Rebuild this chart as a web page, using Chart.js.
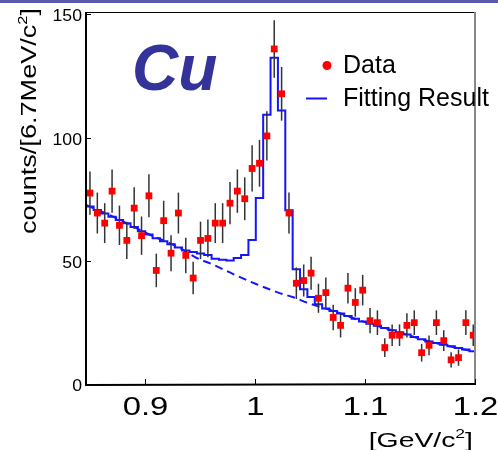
<!DOCTYPE html>
<html lang="en">
<head>
<meta charset="UTF-8" />
<title>Cu - counts vs mass</title>
<style>
  html, body { margin: 0; padding: 0; background: #fff; }
  .topbar { position: absolute; left: 0; top: 0; width: 498px; height: 3px; background: #5a5aa8; }
  canvas { display: block; }
</style>
</head>
<body>
<div class="topbar"></div>
<canvas id="massChart" width="498" height="450"></canvas>

<script src="https://cdn.jsdelivr.net/npm/chart.js"></script>
<script>
// bin centres [GeV/c^2], 6.7 MeV bins
const mass = [
  0.8500, 0.8567, 0.8634, 0.8701, 0.8768, 0.8835, 0.8902, 0.8969, 0.9036, 0.9103,
  0.9170, 0.9237, 0.9304, 0.9371, 0.9438, 0.9505, 0.9572, 0.9639, 0.9706, 0.9773,
  0.9840, 0.9907, 0.9974, 1.0041, 1.0108, 1.0175, 1.0242, 1.0309, 1.0376, 1.0443,
  1.0510, 1.0577, 1.0644, 1.0711, 1.0778, 1.0845, 1.0912, 1.0979, 1.1046, 1.1113,
  1.1180, 1.1247, 1.1314, 1.1381, 1.1448, 1.1515, 1.1582, 1.1649, 1.1716, 1.1783,
  1.1850, 1.1917, 1.1984
];

// data counts per bin
const counts = [
  77.5, 69.4, 65.3, 78.3, 64.4, 58.3, 71.4, 60.2, 76.4, 46.1,
  66.3, 53.1, 69.4, 52.2, 43.0, 58.3, 59.1, 65.3, 65.3, 73.4,
  78.3, 75.2, 87.5, 89.6, 100.7, 136.0, 117.8, 69.4, 40.9, 42.0,
  45.0, 34.8, 37.1, 27.0, 23.8, 38.9, 33.1, 38.1, 25.7, 24.9,
  14.8, 19.8, 19.8, 23.8, 24.9, 12.7, 15.7, 24.9, 17.6, 9.8,
  10.7, 24.9, 19.8
];

// error bar half lengths
const countErrors = [
  8.8, 8.3, 8.1, 8.8, 8.0, 7.6, 8.5, 7.8, 8.7, 6.8,
  8.1, 7.3, 8.3, 7.2, 6.6, 7.6, 7.7, 8.1, 8.1, 8.6,
  8.8, 8.7, 9.4, 9.5, 10.0, 11.7, 10.9, 8.3, 6.4, 6.5,
  6.7, 5.9, 6.1, 5.2, 4.9, 6.2, 5.8, 6.2, 5.1, 5.0,
  3.8, 4.4, 4.4, 4.9, 5.0, 3.6, 4.0, 5.0, 4.2, 3.1,
  3.3, 5.0, 4.4
];

// fitted total (histogram)
const fitResult = [
  72.0, 70.6, 69.2, 67.9, 66.6, 65.2, 63.7, 62.0, 60.7, 59.2,
  57.9, 56.7, 55.4, 54.2, 53.6, 53.0, 52.4, 50.8, 50.4, 50.1,
  51.1, 52.4, 58.5, 75.5, 109.3, 132.4, 111.0, 70.5, 46.6, 38.5,
  35.3, 32.4, 30.6, 29.6, 28.6, 27.6, 26.5, 25.4, 24.5, 23.6,
  22.7, 21.8, 21.0, 20.1, 19.1, 18.2, 17.3, 16.6, 15.9, 15.3,
  14.6, 14.0, 13.3
];

// background component (dashed)
const bgMass = [0.8464, 0.8755, 0.9015, 0.9318, 0.9455, 0.9621, 0.9803, 1.0015, 1.0212,
  1.0348, 1.0470, 1.0561, 1.0682, 1.0985, 1.1288, 1.1591, 1.2000];
const bgCounts = [72.7, 67.0, 61.2, 55.2, 51.5, 48.4, 44.6, 40.5, 37.1,
  35.2, 33.1, 31.7, 30.1, 25.3, 21.3, 17.2, 13.1];

const xTicks = [0.9, 1.0, 1.1, 1.2];
const yTicks = [0, 50, 100, 150];
const xRange = [0.8464, 1.2];
const yRange = [0, 151];

const FONT = '"Liberation Sans", Arial, Helvetica, sans-serif';
const BLUE = '#1414ff';

// text drawn with a horizontal stretch (the original fonts are wide)
function wideText(ctx, parts, x, y, sx, align) {
  // parts: [text, size, rise]
  ctx.save();
  ctx.translate(x, y);
  ctx.scale(sx, 1);
  let total = 0;
  parts.forEach(p => { ctx.font = p[1] + 'px ' + FONT; total += ctx.measureText(p[0]).width; });
  let cx = align === 'right' ? -total : align === 'center' ? -total / 2 : 0;
  ctx.textAlign = 'left';
  ctx.textBaseline = 'alphabetic';
  parts.forEach(p => {
    ctx.font = p[1] + 'px ' + FONT;
    ctx.fillText(p[0], cx, -(p[2] || 0));
    cx += ctx.measureText(p[0]).width;
  });
  ctx.restore();
}

const errorBars = {
  id: 'errorBars',
  beforeDatasetDraw(chart, args) {
    if (args.index !== 0) return;
    const { ctx, scales: { x, y } } = chart;
    ctx.save();
    ctx.strokeStyle = '#333';
    ctx.lineWidth = 1.5;
    mass.forEach((m, i) => {
      const px = x.getPixelForValue(m);
      ctx.beginPath();
      ctx.moveTo(px, y.getPixelForValue(counts[i] - countErrors[i]));
      ctx.lineTo(px, y.getPixelForValue(counts[i] + countErrors[i]));
      ctx.stroke();
    });
    ctx.restore();
  }
};

const frameAndText = {
  id: 'frameAndText',
  afterDraw(chart) {
    const { ctx, chartArea: a, scales: { x, y } } = chart;
    ctx.save();
    ctx.fillStyle = '#000';

    // frame
    ctx.strokeStyle = '#000';
    ctx.lineWidth = 1;
    ctx.beginPath(); ctx.moveTo(a.left, a.top + 0.5); ctx.lineTo(a.right, a.top + 0.5); ctx.stroke();
    ctx.strokeStyle = '#888';
    ctx.lineWidth = 2;
    ctx.beginPath(); ctx.moveTo(a.right, a.top); ctx.lineTo(a.right, a.bottom); ctx.stroke();
    ctx.strokeStyle = '#000';
    ctx.beginPath(); ctx.moveTo(a.left, a.top); ctx.lineTo(a.left, a.bottom + 1); ctx.lineTo(a.right + 1, a.bottom); ctx.stroke();

    // ticks (inside)
    ctx.lineWidth = 1;
    xTicks.forEach(v => {
      const px = Math.round(x.getPixelForValue(v)) + 0.5;
      ctx.beginPath(); ctx.moveTo(px, a.bottom); ctx.lineTo(px, a.bottom - 5); ctx.stroke();
      wideText(ctx, [[String(+v.toFixed(2)), 26.5]], px, a.bottom + 31, 1.24, 'center');
    });
    yTicks.forEach(v => {
      const py = Math.round(y.getPixelForValue(v)) + 0.5;
      ctx.beginPath(); ctx.moveTo(a.left - 1, py); ctx.lineTo(a.left + 5, py); ctx.stroke();
      wideText(ctx, [[String(v), 16.5]], a.left - 4, py + 6, 1.07, 'right');
    });

    // axis titles
    wideText(ctx, [['[GeV/c', 21], ['2', 13, 9], [']', 21]], 473, 446.5, 1.35, 'right');
    ctx.save();
    ctx.translate(35.5, 121);
    ctx.rotate(-Math.PI / 2);
    wideText(ctx, [['counts/[6.7MeV/c', 21.5], ['2', 13, 9], [']', 21.5]], 0, 0, 1.26, 'center');
    ctx.restore();

    // target label
    ctx.fillStyle = '#333399';
    ctx.font = 'italic bold 64px ' + FONT;
    ctx.textAlign = 'left';
    ctx.textBaseline = 'alphabetic';
    ctx.fillText('Cu', 132, 90);

    // legend
    ctx.fillStyle = '#ff0000';
    ctx.beginPath(); ctx.arc(327, 65.5, 4.5, 0, Math.PI * 2); ctx.fill();
    ctx.strokeStyle = BLUE;
    ctx.lineWidth = 2;
    ctx.beginPath(); ctx.moveTo(306, 98.5); ctx.lineTo(327, 98.5); ctx.stroke();
    ctx.fillStyle = '#000';
    ctx.font = '25px ' + FONT;
    ctx.textBaseline = 'middle';
    ctx.fillText('Data', 343, 66);
    ctx.fillText('Fitting Result', 343, 99);
    ctx.restore();
  }
};

const fitPoints = [{ x: xRange[0], y: fitResult[0] }]
  .concat(mass.map((m, i) => ({ x: m, y: fitResult[i] })))
  .concat([{ x: xRange[1], y: fitResult[fitResult.length - 1] }]);

new Chart(document.getElementById('massChart'), {
  type: 'scatter',
  data: {
    datasets: [
      {
        label: 'Data',
        data: mass.map((m, i) => ({ x: m, y: counts[i] })),
        pointStyle: 'rect',
        pointRadius: 4.8,
        backgroundColor: '#ff0000',
        borderWidth: 0,
        order: 0
      },
      {
        label: 'Fitting Result',
        type: 'line',
        data: fitPoints,
        stepped: 'middle',
        borderColor: BLUE,
        borderWidth: 2,
        pointRadius: 0,
        fill: false,
        order: 1
      },
      {
        label: 'Background',
        type: 'line',
        data: bgMass.map((m, i) => ({ x: m, y: bgCounts[i] })),
        borderColor: BLUE,
        borderWidth: 2,
        borderDash: [8, 5],
        cubicInterpolationMode: 'monotone',
        pointRadius: 0,
        fill: false,
        order: 2
      }
    ]
  },
  options: {
    responsive: false,
    animation: false,
    layout: { padding: { left: 86, top: 12, right: 23, bottom: 66 } },
    plugins: { legend: { display: false }, tooltip: { enabled: false } },
    scales: {
      x: {
        type: 'linear',
        min: xRange[0],
        max: xRange[1],
        grid: { display: false },
        border: { display: false },
        ticks: { display: false },
        afterBuildTicks: s => { s.ticks = xTicks.map(v => ({ value: v })); },
        afterFit: s => { s.height = 0; }
      },
      y: {
        min: yRange[0],
        max: yRange[1],
        grid: { display: false },
        border: { display: false },
        ticks: { display: false },
        afterBuildTicks: s => { s.ticks = yTicks.map(v => ({ value: v })); },
        afterFit: s => { s.width = 0; }
      }
    }
  },
  plugins: [errorBars, frameAndText]
});
</script>
</body>
</html>
